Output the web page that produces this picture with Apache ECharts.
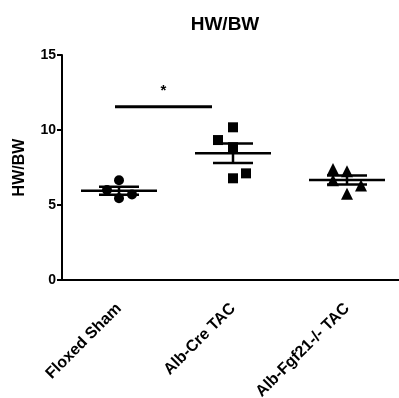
<!DOCTYPE html>
<html>
<head>
<meta charset="utf-8">
<script src="https://cdn.jsdelivr.net/npm/echarts@6/dist/echarts.min.js"></script>
<style>
  html, body { margin: 0; padding: 0; background: #fff; }
  #chart { width: 399px; height: 398px; }
</style>
</head>
<body>
<div id="chart"></div>
<script>
var groups = ['Floxed Sham', 'Alb-Cre TAC', 'Alb-Fgf21-/- TAC'];
var shamVals = [6.65, 5.45, 5.7, 6.0];
var creVals = [10.18, 9.33, 8.85, 6.78, 7.11];
var fgfVals = [7.4, 7.25, 6.65, 5.75, 6.3];
var yTicks = [0, 5, 10, 15];
// significance: [from group, to group, height, label]
var sigBars = [[0, 1, 11.55, '*']];

// jitter in pixels (style only)
var jitter = [[0, 0, 13, -12], [0, -15, 0, 0, 13], [-14, 0, -14, 0, 14]];
var symbols = ['circle', 'rect', 'triangle'];
var allVals = [shamVals, creVals, fgfVals];

var font = 'Arial, "Liberation Sans", sans-serif';

function meanSem(arr) {
  var n = arr.length, m = 0, s = 0;
  arr.forEach(function (v) { m += v; });
  m = m / n;
  arr.forEach(function (v) { s += (v - m) * (v - m); });
  var sd = Math.sqrt(s / (n - 1));
  return [m, sd / Math.sqrt(n)];
}

var statData = allVals.map(function (arr, i) {
  var ms = meanSem(arr);
  return [i, ms[0], ms[1]];
});

var chart = echarts.init(document.getElementById('chart'));

var series = allVals.map(function (arr, i) {
  return {
    type: 'scatter',
    symbol: symbols[i],
    symbolSize: i == 2 ? 12 : 10,
    itemStyle: { color: '#000', opacity: 1 },
    z: 3,
    data: arr.map(function (v, j) {
      return { value: [i, v], symbolOffset: [jitter[i][j], 0] };
    })
  };
});

series.push({
  type: 'custom',
  z: 4,
  data: statData,
  renderItem: function (params, api) {
    var c = api.coord([api.value(0), api.value(1)]);
    var top = api.coord([api.value(0), api.value(1) + api.value(2)]);
    var bot = api.coord([api.value(0), api.value(1) - api.value(2)]);
    var st = { stroke: '#000', lineWidth: 2.5 };
    return {
      type: 'group',
      children: [
        { type: 'line', shape: { x1: c[0] - 38, y1: c[1], x2: c[0] + 38, y2: c[1] }, style: st },
        { type: 'line', shape: { x1: c[0], y1: top[1], x2: c[0], y2: bot[1] }, style: st },
        { type: 'line', shape: { x1: c[0] - 20, y1: top[1], x2: c[0] + 20, y2: top[1] }, style: st },
        { type: 'line', shape: { x1: c[0] - 20, y1: bot[1], x2: c[0] + 20, y2: bot[1] }, style: st }
      ]
    };
  }
});

series.push({
  type: 'custom',
  z: 4,
  data: sigBars,
  renderItem: function (params, api) {
    var a = api.coord([api.value(0), api.value(2)]);
    var b = api.coord([api.value(1), api.value(2)]);
    var x1 = a[0] - 4, x2 = b[0] - 21;
    return {
      type: 'group',
      children: [
        { type: 'line', shape: { x1: x1, y1: a[1], x2: x2, y2: a[1] }, style: { stroke: '#000', lineWidth: 3 } },
        { type: 'text', style: { text: sigBars[params.dataIndex][3], x: (x1 + x2) / 2, y: a[1] - 16, align: 'center', verticalAlign: 'middle', fontSize: 15, fontWeight: 'bold', fontFamily: font, fill: '#000' } }
      ]
    };
  }
});

chart.setOption({
  animation: false,
  backgroundColor: '#fff',
  title: {
    text: 'HW/BW',
    left: 220,
    top: 10,
    textAlign: 'center',
    textStyle: { fontSize: 19, fontWeight: 'bold', fontFamily: font, color: '#000' }
  },
  grid: { left: 62, right: -5, top: 55, bottom: 118, containLabel: false, outerBoundsMode: 'none' },
  xAxis: {
    type: 'category',
    data: groups,
    axisLine: { lineStyle: { color: '#000', width: 2 } },
    axisTick: { alignWithLabel: true, length: 5, lineStyle: { color: '#000', width: 2 } },
    axisLabel: { rotate: 45, margin: 26, fontSize: 16, fontWeight: 'bold', fontFamily: font, color: '#000' }
  },
  yAxis: {
    type: 'value',
    min: yTicks[0],
    max: yTicks[yTicks.length - 1],
    interval: 5,
    name: 'HW/BW',
    nameLocation: 'middle',
    nameGap: 34,
    nameTextStyle: { fontSize: 16, fontWeight: 'bold', fontFamily: font, color: '#000' },
    splitLine: { show: false },
    axisLine: { show: true, lineStyle: { color: '#000', width: 2 } },
    axisTick: { show: true, length: 5, lineStyle: { color: '#000', width: 2 } },
    axisLabel: { margin: 6, fontSize: 14, fontWeight: 'bold', fontFamily: font, color: '#000' }
  },
  series: series
});
</script>
</body>
</html>
